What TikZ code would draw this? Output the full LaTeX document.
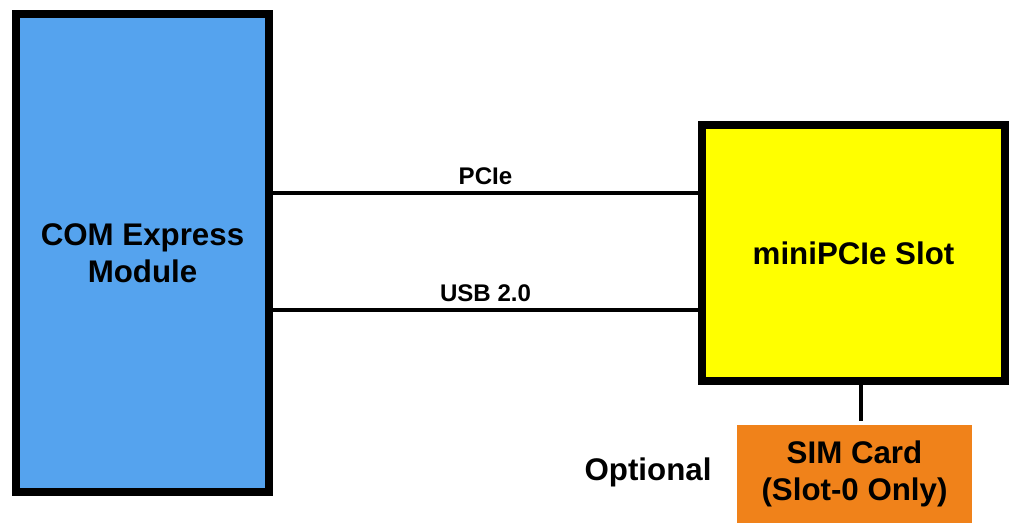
\documentclass[tikz,border=0pt]{standalone}
\usepackage{fontspec}
\setmainfont{Liberation Sans}
\usetikzlibrary{positioning,calc}
\definecolor{moduleblue}{RGB}{85,163,238}
\definecolor{slotyellow}{RGB}{255,255,0}
\definecolor{simorange}{RGB}{240,130,26}
\begin{document}
\begin{tikzpicture}[x=0.2mm, y=-0.2mm,
	block/.style={draw=black, line width=1.6mm, align=center, inner sep=0pt, font=\fontsize{17.8}{21}\selectfont\bfseries},
	bus/.style={line width=0.8mm},
	buslabel/.style={above, inner sep=1.2mm, font=\fontsize{13.7}{16}\selectfont\bfseries}]
	\useasboundingbox (0,0) rectangle (1010,523);
	\node[block, fill=moduleblue, minimum width=50.6mm, minimum height=95.6mm] (com) at (142.5,253) {COM Express\\Module};
	\node[block, fill=slotyellow, minimum width=60.6mm, minimum height=51.2mm] (mini) at (853.5,253) {miniPCIe Slot};
	\node[block, draw=none, fill=simorange, minimum width=47mm, minimum height=19.6mm] (sim) at (854.5,474) {SIM Card\\(Slot-0 Only)};
	\node[font=\fontsize{17.8}{21}\selectfont\bfseries] (opt) at (648,472) {Optional};
	\draw[bus] ([yshift=12mm]com.east) -- ([yshift=12mm]com.east -| mini.west) node[buslabel, midway] {PCIe};
	\draw[bus] ([yshift=-11.4mm]com.east) -- ([yshift=-11.4mm]com.east -| mini.west) node[buslabel, midway] {USB 2.0};
	\draw[bus] ([xshift=1.5mm]mini.south) -- ([xshift=1.5mm]mini.south |- sim.north);
\end{tikzpicture}
\end{document}
